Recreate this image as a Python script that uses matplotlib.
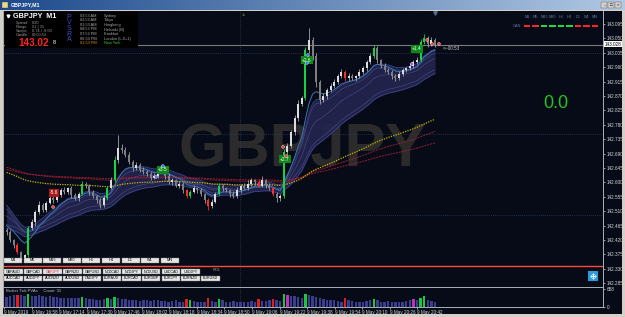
import numpy as np
import pandas as pd
import matplotlib
matplotlib.use('Agg')
import matplotlib.pyplot as plt
from matplotlib.patches import Rectangle
from matplotlib.colors import LinearSegmentedColormap

plt.rcParams['font.family'] = ['Liberation Sans', 'DejaVu Sans']

# ---- data (GBPJPY M1, bars grouped by ~2 minutes) ----
first_open = 142.450
closes = [
    142.445, 142.420, 142.404, 142.382, 142.364, 142.373, 142.457, 142.476, 142.507, 142.529,
    142.514, 142.536, 142.551, 142.545, 142.561, 142.576, 142.570, 142.582, 142.561, 142.551,
    142.564, 142.595, 142.589, 142.570, 142.557, 142.545, 142.529, 142.551, 142.582, 142.607,
    142.670, 142.707, 142.701, 142.686, 142.664, 142.645, 142.654, 142.639, 142.632, 142.626,
    142.614, 142.620, 142.632, 142.645, 142.620, 142.601, 142.607, 142.589, 142.595, 142.576,
    142.557, 142.570, 142.582, 142.576, 142.564, 142.545, 142.526, 142.539, 142.564, 142.589,
    142.582, 142.576, 142.564, 142.557, 142.576, 142.589, 142.582, 142.595, 142.607, 142.601,
    142.589, 142.607, 142.592, 142.582, 142.564, 142.551, 142.557, 142.695, 142.714, 142.757,
    142.801, 142.845, 142.864, 143.014, 143.045, 142.995, 142.914, 142.857, 142.870, 142.889,
    142.901, 142.914, 142.932, 142.945, 142.926, 142.932, 142.926, 142.932, 142.945, 142.957,
    142.976, 142.995, 143.020, 142.982, 142.964, 142.951, 142.945, 142.932, 142.926, 142.939,
    142.951, 142.957, 142.964, 142.976, 142.982, 143.039, 143.051, 143.032, 143.045, 143.028]

# wick lengths in thousandths of a yen
upper_wick = [
    6, 5, 4, 6, 5, 4, 8, 10, 6, 12,
    8, 6, 10, 5, 8, 6, 10, 5, 8, 6,
    6, 8, 5, 6, 5, 4, 6, 8, 6, 10,
    12, 41, 12, 10, 8, 6, 10, 5, 8, 6,
    5, 8, 6, 10, 5, 8, 6, 5, 8, 6,
    4, 6, 10, 5, 6, 4, 5, 8, 6, 10,
    6, 5, 4, 8, 10, 6, 8, 12, 6, 5,
    8, 12, 5, 6, 4, 5, 6, 8, 10, 6,
    8, 12, 6, 10, 37, 8, 10, 6, 8, 6,
    10, 8, 6, 8, 6, 10, 6, 5, 8, 6,
    8, 10, 8, 6, 5, 8, 6, 5, 6, 8,
    6, 5, 8, 6, 10, 8, 12, 6, 8, 6]
lower_wick = [
    8, 6, 8, 6, 10, 4, 5, 6, 12, 5,
    6, 8, 5, 10, 6, 8, 5, 6, 10, 6,
    8, 5, 6, 8, 6, 10, 8, 5, 6, 4,
    6, 8, 10, 6, 8, 10, 6, 8, 5, 6,
    8, 5, 6, 4, 8, 6, 10, 5, 6, 8,
    6, 5, 4, 8, 6, 10, 12, 6, 5, 4,
    8, 6, 10, 5, 6, 8, 4, 5, 6, 8,
    5, 4, 10, 6, 8, 12, 10, 6, 8, 6,
    10, 8, 6, 8, 10, 12, 16, 12, 6, 8,
    5, 6, 8, 6, 10, 8, 6, 10, 5, 6,
    8, 5, 6, 10, 8, 6, 5, 8, 10, 6,
    8, 6, 5, 8, 6, 5, 8, 10, 6, 5]

volumes = [
    380, 420, 440, 460, 430, 400, 470, 420, 400, 430, 410, 380,
    400, 360, 380, 350, 330, 340, 320, 340, 330, 380, 320, 300, 280, 260, 250, 280, 330, 300,
    380, 330, 300, 280, 260, 250, 240, 220, 260, 240, 220, 250, 270, 230, 220, 200, 230, 240, 200, 190,
    300, 260, 210, 190, 180, 200, 320, 220, 190, 290, 240, 200, 190, 220, 200, 190, 170, 200, 220, 190,
    300, 230, 210, 260, 300, 240, 210, 470, 430, 400, 420, 380, 340, 480, 450, 400, 360, 320, 280, 260,
    270, 240, 220, 200, 320, 250, 220, 200, 190, 200, 220, 250, 300, 240, 200, 190, 220, 200, 190, 170,
    200, 220, 240, 280, 260, 320, 400, 260, 220, 180]

climax_bull = [6, 21, 28, 30, 51, 59, 77, 83, 102, 115, 116]
climax_bear = [3, 50, 56, 70, 74, 94]
rising_vol = [78, 113]

# moving-average seeds (values before the first visible bar)
seed_fast = 142.47
seed_ribbon = [142.53, 142.50, 142.47]
seed_slow = 142.635
seed_red = [142.650, 142.642]

trade_idx = [13.2, 43.4, 77.3, 83.4, 114.0]
trade_price = [142.567, 142.639, 142.673, 142.982, 143.017]
trade_text = ['-5.6', '+3.5', '+2.7', '+2.6', '+1.4']

signal_idx = [12.9, 41.5, 43.4, 76.8, 77.6, 83.7, 83.4, 116.8, 118.2, 112.6, 120.1]
signal_price = [142.523, 142.617, 142.651, 142.711, 142.682, 142.998, 142.973,
                143.045, 143.033, 142.970, 143.033]
signal_color = ['#ff3030', '#3a6cff', '#3a6cff', '#ff3030', '#ff3030', '#3a6cff', '#3a6cff',
                '#ff3030', '#ff3030', '#c040ff', '#ff3030']

price_ticks = [143.095 - 0.045 * k for k in range(19)]
bid = 143.028
rol_level = 142.339
grid_prices = [143.004, 142.751, 142.498]
grid_idx = 64.8

start_minute = 16 * 60 + 43.5
minutes_per_bar = 2.09
tick_times = ['16:42', '16:58', '17:14', '17:30', '17:46', '18:02', '18:18', '18:34',
              '18:50', '19:06', '19:22', '19:38', '19:54', '20:10', '20:26', '20:42']

tf_names = ['M1', 'M5', 'M15', 'M30', 'H1', 'H4', 'D1', 'W1', 'MN']
can_state = ['r', 'r', 'g', 'g', 'g', 'g', 'r', 'r', 'r']
pairs_row1 = ['GBPAUD', 'GBPCAD', 'GBPJPY', 'GBPNZD', 'GBPUSD', 'NZDCAD', 'NZDJPY',
              'NZDUSD', 'USDCAD', 'USDJPY']
pairs_row2 = ['AUDCAD', 'AUDJPY', 'AUDNZD', 'AUDUSD', 'CADJPY', 'EURAUD', 'EURCAD',
              'EURGBP', 'EURJPY', 'EURNZD', 'EURUSD']
session_times = ['03:53 AM', '02:53 AM', '01:53 AM', '08:53 PM', '07:53 PM', '06:53 PM', '01:53 PM']
session_names = ['Sydney', 'Tokyo', 'Hongkong', 'Helsinki (B)', 'Frankfurt',
                 'London (L-0+1)', 'New York']

# ---- derived ----
n = len(closes)
x = np.arange(n)
c = np.array(closes)
o = np.concatenate([[first_open], c[:-1]])
hi = np.maximum(o, c) + np.array(upper_wick) / 1000
lo = np.minimum(o, c) - np.array(lower_wick) / 1000


def ema(seed, span):
    s = pd.Series([seed] + closes)
    return s.ewm(span=span, adjust=False).mean().to_numpy()[1:]


fast = ema(seed_fast, 9)
ribbon = [ema(s, sp) for s, sp in zip(seed_ribbon, [12, 18, 30])]
slow = ema(seed_slow, 100)
reds = [ema(s, sp) for s, sp in zip(seed_red, [140, 200])]

BG = '#060b17'
W, H = 625, 317


def frac(x0, y0, x1, y1):
    return [x0 / W, 1 - y1 / H, (x1 - x0) / W, (y1 - y0) / H]


fig = plt.figure(figsize=(6.25, 3.17), dpi=100, facecolor=BG)
ax = fig.add_axes(frac(3, 11, 603, 287))
vax = fig.add_axes(frac(3, 288, 603, 307))
xlim = (-1, -1 + 600 / 3.6)

for a in (ax, vax):
    a.set_facecolor(BG)
    a.set_xlim(*xlim)
    for s in ['left', 'right', 'bottom']:
        a.spines[s].set_color('#a8b0b8')
        a.spines[s].set_linewidth(0.7)
    a.spines['top'].set_visible(False)

ax.set_ylim(142.273, 143.1356)

# watermark
ax.text(303 / W, 1 - 151 / H, 'GBPJPY', transform=fig.transFigure, fontsize=44,
        fontweight='bold', color='#2b2b2b', ha='center', va='center', zorder=0.5)

# grid
for gp in grid_prices:
    ax.axhline(gp, color='#2b3d5c', lw=0.6, ls=(0, (1, 1.5)), zorder=1)
ax.axvline(grid_idx, color='#2b3d5c', lw=0.6, ls=(0, (1, 1.5)), zorder=1)
vax.axvline(grid_idx, color='#2b3d5c', lw=0.6, ls=(0, (1, 1.5)), zorder=1)

# ribbon band
r_lo = np.minimum.reduce(ribbon) - 0.012
r_hi = np.maximum.reduce(ribbon) + 0.012
ax.fill_between(x, r_lo, r_hi, color='#23254f', alpha=0.9, lw=0, zorder=2)
ax.plot(x, r_lo, color='#3f4389', lw=0.6, zorder=2.1)
ax.plot(x, r_hi, color='#3f4389', lw=0.6, zorder=2.1)
for r in ribbon:
    ax.plot(x, r, color='#4a5088', lw=0.4, zorder=2.1)

ax.plot(x, slow, color='#c8b400', lw=0.9, ls=(0, (1, 1)), zorder=2.5)
for r in reds:
    ax.plot(x, r, color='#9a2030', lw=0.7, ls=(0, (2, 1)), zorder=2.4)
ax.plot(x, fast, color='#3a78b4', lw=0.7, zorder=2.6)

# levels
ax.axhline(bid, color='#7a7a7a', lw=0.8, zorder=1.5)
ax.axhline(rol_level, color='#ff4a36', lw=1.0, zorder=1.5)

# candles
body_col, wick_col = [], []
for i in range(n):
    if i in climax_bull:
        body_col.append('#12d444')
    elif i in climax_bear:
        body_col.append('#ff2a2a')
    elif c[i] >= o[i]:
        body_col.append('#dcdcdc')
    else:
        body_col.append('#7e7e7e')
    wick_col.append(body_col[-1] if (i in climax_bull or i in climax_bear) else '#a4a4a4')
ax.vlines(x, lo, hi, colors=wick_col, lw=0.6, zorder=3)
body_h = np.where(np.abs(c - o) < 0.002, 0.002, c - o)
ax.bar(x, body_h, bottom=o, width=0.55, color=body_col, lw=0, zorder=3.2)

# trade labels and signals
for ti, tp, tt in zip(trade_idx, trade_price, trade_text):
    fc = '#b01818' if tt.startswith('-') else '#0e8a1a'
    ax.text(ti, tp, tt, fontsize=3.4, color='white', ha='center', va='center', zorder=6,
            bbox=dict(boxstyle='square,pad=0.25', fc=fc, ec='none'))
ax.scatter(signal_idx, signal_price, s=4, c=signal_color, edgecolors='white',
           linewidths=0.3, zorder=6)

ax.set_xticks([])
ax.yaxis.tick_right()
ax.set_yticks(price_ticks)
ax.set_yticklabels([f'{t:.3f}' for t in price_ticks])
ax.tick_params(axis='y', colors='#d8d8d8', labelsize=3.3, length=1.5, width=0.5, pad=1.5)

# volume
vcol = []
for i in range(n):
    if i in climax_bull:
        vcol.append('#18c840')
    elif i in climax_bear:
        vcol.append('#e02020')
    elif i in rising_vol:
        vcol.append('#c030c0')
    else:
        vcol.append('#3b3e8c')
vax.bar(x, volumes, width=0.65, color=vcol, lw=0, zorder=3)
vax.set_ylim(0, 700)
vax.yaxis.tick_right()
vax.set_yticks([0, 658])
vax.set_yticklabels(['0', '658'])
vax.tick_params(axis='y', colors='#d8d8d8', labelsize=3.3, length=1.5, width=0.5, pad=1.5)
tmins = [int(t[:2]) * 60 + int(t[3:]) for t in tick_times]
tpos = [(m - start_minute) / minutes_per_bar for m in tmins]
vax.set_xticks(tpos)
vax.set_xticklabels(['9 May 2019'] + ['9 May ' + t for t in tick_times[1:]])
vax.tick_params(axis='x', colors='#d8d8d8', labelsize=3.3, length=1.5, width=0.5, pad=1)
for lbl in vax.get_xticklabels():
    lbl.set_ha('left')

# ---- overlay (pixel coordinates) ----
ov = fig.add_axes([0, 0, 1, 1], zorder=10)
ov.patch.set_alpha(0)
ov.axis('off')
cmap = LinearSegmentedColormap.from_list('tb', ['#1c4a8c', '#b0c8e4'])
ov.imshow(np.linspace(0, 1, 256).reshape(1, -1), extent=(0, W, 10, 0), cmap=cmap, aspect='auto')
ov.set_xlim(0, W)
ov.set_ylim(H, 0)
ov.add_patch(Rectangle((0, 10), 3, H - 10, fc='#d4d0c8', ec='none'))
ov.add_patch(Rectangle((622, 10), 3, H - 10, fc='#d4d0c8', ec='none'))
ov.add_patch(Rectangle((0, 314), W, 3, fc='#d4d0c8', ec='none'))
ov.add_patch(Rectangle((0, 10), W, 1, fc='#d4d0c8', ec='none'))
ov.add_patch(Rectangle((2, 2), 6, 6, fc='#e8d890', ec='#404040', lw=0.3))
ov.text(11, 5, 'GBPJPY,M1', fontsize=3.8, color='white', fontweight='bold', va='center')
for k, g in enumerate(['_', '□', '×']):
    ov.add_patch(Rectangle((601 + 7 * k, 1.5), 6, 6.5, fc='#d4d0c8', ec='#606060', lw=0.3))
    ov.text(604 + 7 * k, 4.8, g, fontsize=3.2, ha='center', va='center', color='black')

# info panel
ov.add_patch(Rectangle((5, 12), 133, 36, fc='#000000', ec='none'))
ov.plot([7.5], [15.5], marker='v', ms=2, color='white')
ov.text(13, 16, 'GBPJPY  M1', fontsize=5.2, fontweight='bold', color='white', va='center')
for k, (lab, val) in enumerate(zip(['Spread', 'Range', 'Swaps', 'Candle'],
                                   ['0.20', '51 | 31', '0.74 / -8.00', '00:00:53'])):
    ov.text(16, 22.7 + 4 * k, lab, fontsize=2.8, color='#9a9a9a', va='center')
    ov.text(32, 22.7 + 4 * k, val, fontsize=2.8, color='#9a9a9a', va='center')
ov.text(18, 42.5, '143.02', fontsize=7.2, fontweight='bold', color='#ff2020', va='center')
ov.text(53, 43, '8', fontsize=4, color='white', va='center')
for k, ch in enumerate('PVSRA'):
    ov.text(69, 17.3 + 5.6 * k, ch, fontsize=5, color='#3e4ec8', ha='center', va='center')
for k, (tm, nm) in enumerate(zip(session_times, session_names)):
    last = k == len(session_times) - 1
    ov.text(80, 15.7 + 4.6 * k, tm, fontsize=2.8, color='#e09020' if last else '#aaaaaa',
            va='center')
    ov.text(104, 15.7 + 4.6 * k, nm, fontsize=2.8, color='#30d030' if last else '#aaaaaa',
            va='center')

# top right multi-timeframe candle state
for k, (tf, st) in enumerate(zip(tf_names, can_state)):
    cx = 527 + 8.5 * k
    ov.text(cx, 17, tf, fontsize=2.8, color='#5a7aa8', ha='center', va='center')
    ov.plot([cx - 3.3, cx + 3.3], [26.3, 26.3], color='#ff2a2a' if st == 'r' else '#20e040',
            lw=1.4, solid_capstyle='butt')
ov.text(513, 26.3, 'CAN', fontsize=2.8, color='#5a7aa8', va='center')
ov.text(543, 103, '0.0', fontsize=13, color='#22c422', va='center')
ov.text(443, 48, '<--00:53', fontsize=3.3, color='#c8c8c8', va='center')
ov.text(242, 15, '1c', fontsize=3, color='#8a8a30', va='center')
ov.plot([435], [13], marker='v', ms=2.5, color='#5a6a8a')

# price box on right axis
ov.add_patch(Rectangle((603.5, 41.3), 18.5, 5.6, fc='white', ec='none'))
ov.text(605, 44.1, f'{bid:.3f}', fontsize=3.3, color='black', va='center')

# buttons
for k, tf in enumerate(tf_names):
    bx = 4 + 19.6 * k
    ov.add_patch(Rectangle((bx, 257.5), 18, 5.5, fc='#e6e6e6', ec='#808080', lw=0.3))
    ov.text(bx + 9, 260.3, tf, fontsize=2.8, ha='center', va='center', color='black')
ov.text(213, 270, 'ROL', fontsize=2.8, color='#a0a0a0', va='center')
for row, names in [(269, pairs_row1), (275.5, pairs_row2)]:
    for k, p in enumerate(names):
        bx = 4 + 19.7 * k
        ov.add_patch(Rectangle((bx, row), 18.5, 5.3, fc='#e6e6e6', ec='#808080', lw=0.3))
        ov.text(bx + 9.25, row + 2.7, p, fontsize=2.6, ha='center', va='center',
                color='#e02020' if p == 'GBPJPY' else 'black')

# crosshair icon
ov.add_patch(Rectangle((588, 271), 10, 10, fc='#2a9ad8', ec='none'))
ov.plot([593], [276], marker='+', ms=5, mew=0.6, color='white')
ov.plot([593], [276], marker='o', ms=3, mfc='none', mec='white', mew=0.4)

ov.text(6, 291, 'Broker Tick PVAs     Count: 31', fontsize=3, color='#c0c0c0', va='center')

fig.savefig('out.png', dpi=100, facecolor=BG)
